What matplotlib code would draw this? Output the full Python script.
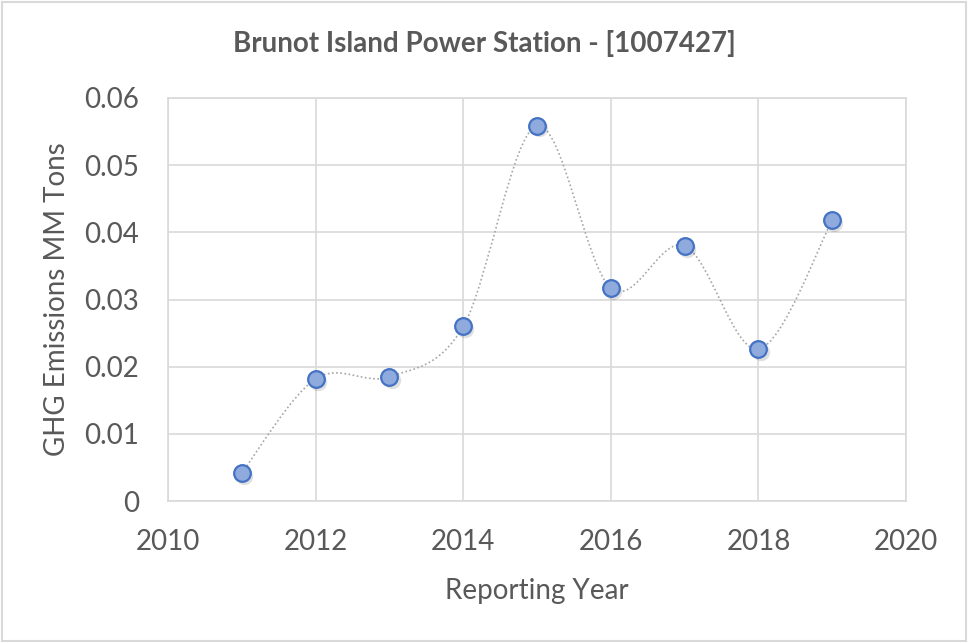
import matplotlib.pyplot as plt
from matplotlib.path import Path
from matplotlib.patches import PathPatch, Rectangle
import matplotlib.transforms as mtransforms
import numpy as np

plt.rcParams['font.family'] = ['Lato', 'DejaVu Sans']

years = [2011, 2012, 2013, 2014, 2015, 2016, 2017, 2018, 2019]
emissions = [0.0042, 0.0182, 0.0185, 0.0260, 0.0559, 0.0317, 0.0380, 0.0226, 0.0418]

grey = '#595959'
grid_c = '#d9d9d9'


def smooth_path(xs, ys):
    # Excel-like smoothed line: Catmull-Rom segments as cubic beziers
    pts = np.column_stack([xs, ys]).astype(float)
    n = len(pts)
    verts = [pts[0]]
    codes = [Path.MOVETO]
    for i in range(n - 1):
        p0 = pts[max(i - 1, 0)]
        p1 = pts[i]
        p2 = pts[i + 1]
        p3 = pts[min(i + 2, n - 1)]
        c1 = p1 + (p2 - p0) / 6
        c2 = p2 - (p3 - p1) / 6
        verts += [c1, c2, p2]
        codes += [Path.CURVE4] * 3
    return Path(verts, codes)


fig = plt.figure(figsize=(9.68, 6.43), dpi=100)
fig.patches.append(Rectangle((0.002, 0.003), 0.996, 0.994, transform=fig.transFigure,
                             fill=False, edgecolor='#d9d9d9', lw=1.5))
ax = fig.add_axes([0.1736, 0.2208, 0.7624, 0.6268])

ax.add_patch(PathPatch(smooth_path(years, emissions), fill=False, edgecolor='#a6a6a6',
                       lw=1.2, ls=(0, (1, 1.5)), zorder=2))
# soft shadow under the markers
shadow = ax.transData + mtransforms.ScaledTranslation(1.5 / 72, -2 / 72, fig.dpi_scale_trans)
ax.plot(years, emissions, 'o', ms=12.5, color='#000000', alpha=0.12, mec='none',
        transform=shadow, zorder=3)
ax.plot(years, emissions, 'o', ms=12, mfc='#8faadc', mec='#4472c4', mew=1.6, ls='none', zorder=4)

ax.set_xlim(2010, 2020)
ax.set_ylim(0, 0.06)
ax.set_xticks(range(2010, 2021, 2))
ax.set_yticks([0, 0.01, 0.02, 0.03, 0.04, 0.05, 0.06])
ax.set_yticklabels(['0', '0.01', '0.02', '0.03', '0.04', '0.05', '0.06'])
ax.grid(True, color=grid_c, lw=1.2)
ax.set_axisbelow(True)
for s in ax.spines.values():
    s.set_color(grid_c)
    s.set_linewidth(1.2)
ax.tick_params(length=0, labelsize=20, colors=grey)
ax.tick_params(axis='x', pad=20)
ax.tick_params(axis='y', pad=21)

ax.set_xlabel('Reporting Year', fontsize=20, color=grey, labelpad=17)
ax.set_ylabel('GHG Emissions MM Tons', fontsize=20, color=grey, labelpad=10)
fig.text(0.5, 0.932, 'Brunot Island Power Station - [1007427]', ha='center', va='center',
         fontsize=20, fontweight='bold', color=grey)

fig.savefig('out.png', dpi=100)
